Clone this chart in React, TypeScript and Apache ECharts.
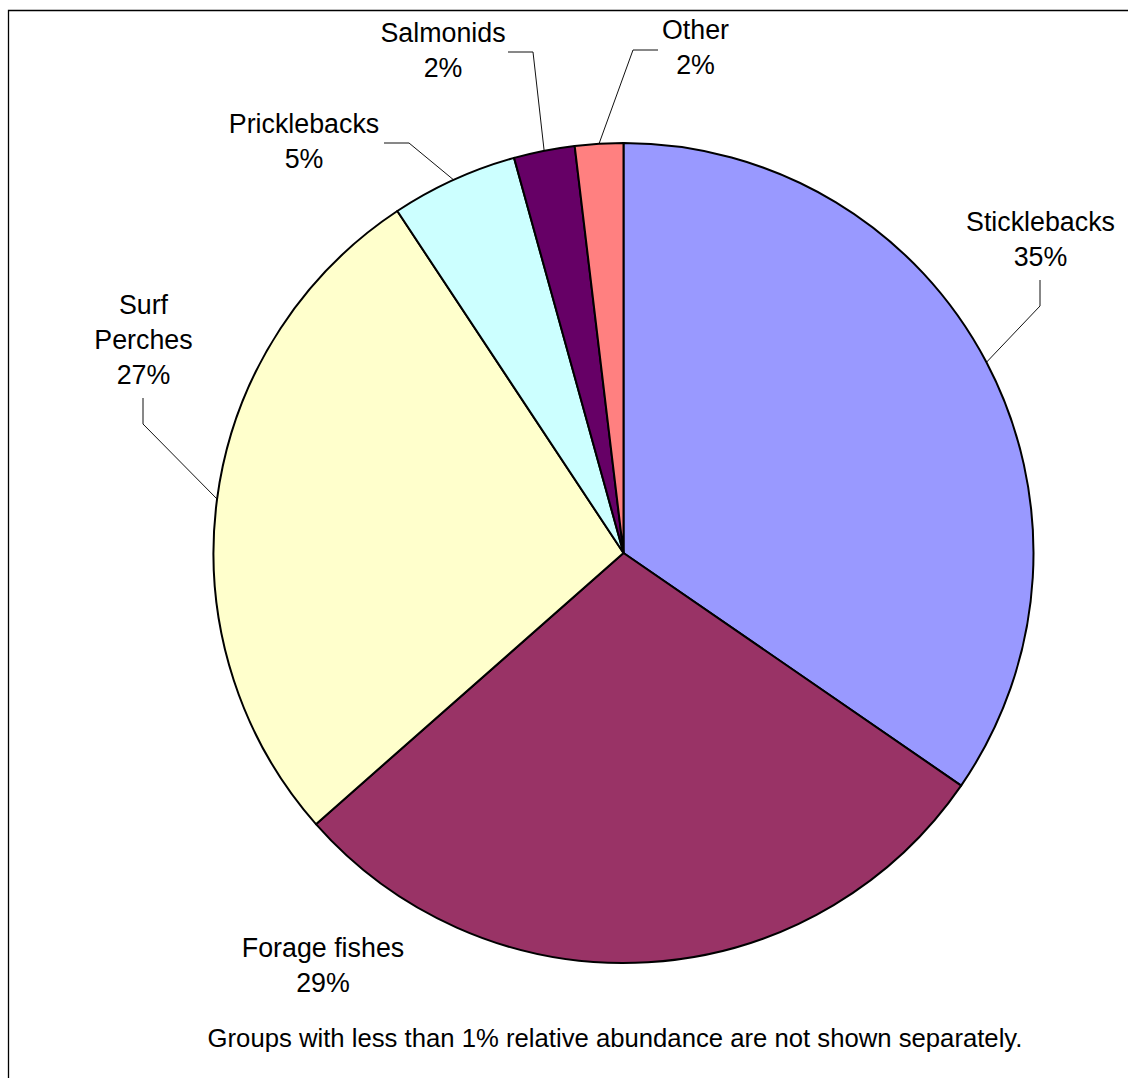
import { useEffect, useRef } from "react";
import * as echarts from "echarts";

// Relative abundance of fish groups (%)
const categories = ["Sticklebacks", "Forage fishes", "Surf\nPerches", "Pricklebacks", "Salmonids", "Other"];
const shares = [34.6, 28.9, 27.2, 5.0, 2.4, 1.9];
const sliceColors = ["#9999FF", "#993366", "#FFFFCC", "#CCFFFF", "#660066", "#FF8080"];
const footnote = "Groups with less than 1% relative abundance are not shown separately.";

// Pie geometry in page pixels
const CX = 623.5;
const CY = 553;
const R = 410;

// Centre of each label block, and the bend/end points of its leader line
const labelAnchors: [number, number][] = [
  [1040.5, 239.5],
  [323, 965.5],
  [143.5, 339.5],
  [304, 141],
  [443, 50],
  [695.5, 47.5],
];
const leaderBends: ([number, number][] | null)[] = [
  [[1040, 306], [1040, 280]],
  null,
  [[143, 424], [143, 398]],
  [[409, 143], [384, 143]],
  [[533, 52], [508, 52]],
  [[633, 50], [658, 50]],
];

const FONT = "'Liberation Sans', Arial, Helvetica, sans-serif";

// Point on the pie rim at the middle of slice i (clockwise from 12 o'clock)
function rimPoint(i: number): [number, number] {
  const total = shares.reduce((a, b) => a + b, 0);
  let before = 0;
  for (let j = 0; j < i; j++) before += shares[j];
  const a = ((before + shares[i] / 2) / total) * Math.PI * 2;
  return [CX + R * Math.sin(a), CY - R * Math.cos(a)];
}

export default function App() {
  const ref = useRef<HTMLDivElement>(null);

  useEffect(() => {
    if (!ref.current) return;
    const chart = echarts.init(ref.current, null, { renderer: "svg" });
    chart.setOption({
      animation: false,
      backgroundColor: "#ffffff",
      graphic: [
        {
          type: "polyline",
          silent: true,
          shape: { points: [[8.5, 1200], [8.5, 10.5], [1300, 10.5]] },
          style: { stroke: "#000", lineWidth: 1.3, fill: "none" },
        },
        {
          type: "text",
          silent: true,
          x: 615,
          y: 1038,
          style: {
            text: footnote,
            fill: "#000",
            font: `25.7px ${FONT}`,
            align: "center",
            verticalAlign: "middle",
          },
        },
      ],
      series: [
        {
          type: "pie",
          center: [CX, CY],
          radius: R,
          startAngle: 90,
          clockwise: true,
          avoidLabelOverlap: false,
          silent: true,
          emphasis: { disabled: true },
          itemStyle: { borderColor: "#000", borderWidth: 2 },
          data: categories.map((name, i) => ({
            name,
            value: shares[i],
            itemStyle: { color: sliceColors[i] },
            labelLine: { show: leaderBends[i] != null },
          })),
          label: {
            show: true,
            position: "outside",
            color: "#000",
            fontFamily: FONT,
            fontSize: 26.8,
            lineHeight: 35,
            align: "center",
            formatter: (p: any) => `${p.name}\n${Math.round(p.percent)}%`,
          },
          labelLine: {
            show: true,
            smooth: false,
            lineStyle: { color: "#111", width: 1 },
          },
          labelLayout: (p: any) => {
            const i = p.dataIndex;
            const [x, y] = labelAnchors[i];
            const out: any = { x, y, align: "center", verticalAlign: "middle", hideOverlap: false };
            const bends = leaderBends[i];
            if (bends) out.labelLinePoints = [rimPoint(i), bends[0], bends[1]];
            return out;
          },
        },
      ],
    });
    return () => chart.dispose();
  }, []);

  return (
    <div
      ref={ref}
      style={{ position: "fixed", left: 0, top: 0, width: 1128, height: 1078, background: "#fff" }}
    />
  );
}
